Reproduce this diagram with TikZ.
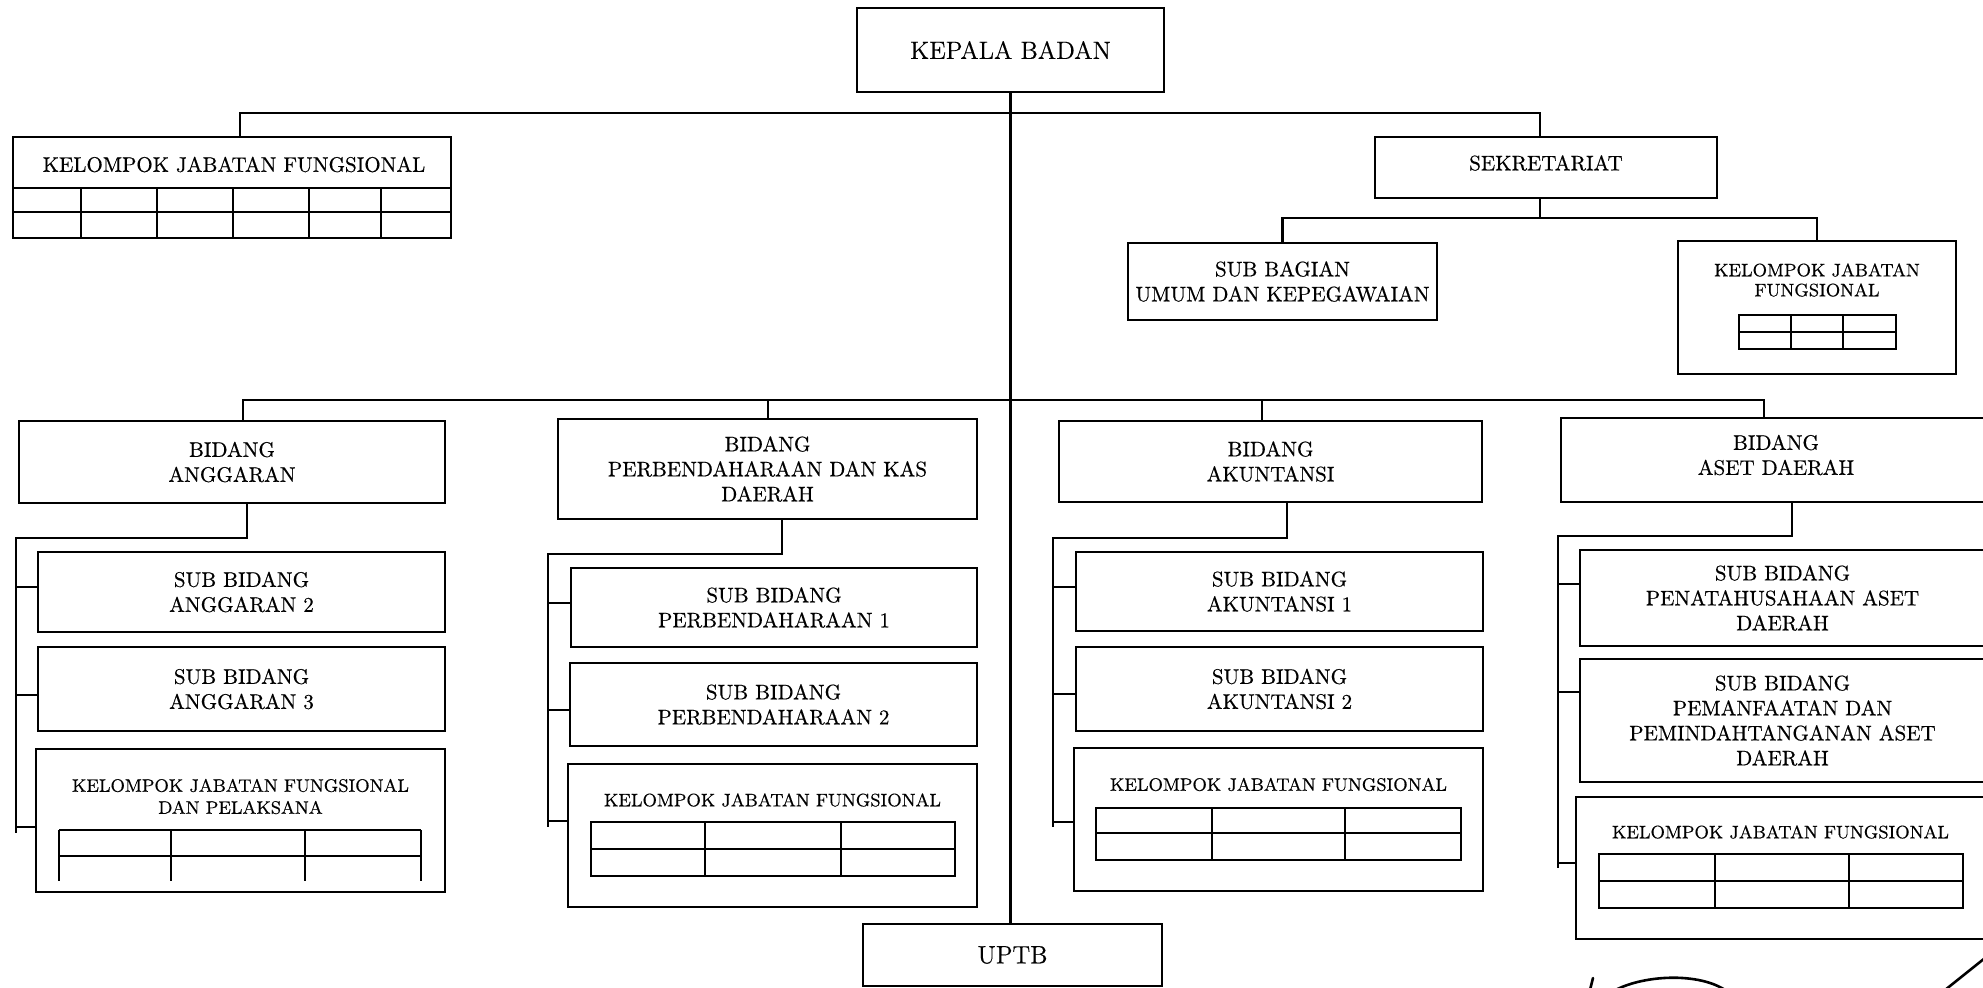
\documentclass[tikz,border=0pt]{standalone}
\usepackage{fontspec}
\setmainfont{Latin Modern Roman}[FakeBold=0.45]
\usetikzlibrary{calc}
\newcommand\mainsize{\fontsize{10.5}{12.5}\selectfont}
\newcommand\kjfsize{\fontsize{9}{11}\selectfont}
\newcommand\headsize{\fontsize{12.5}{15}\selectfont}
\tikzset{
  box/.style={draw, line width=1.15pt, inner sep=0pt, align=center, font=\mainsize},
  sz/.style 2 args={minimum width=#1*0.5pt, minimum height=#2*0.5pt},
  link/.style={line width=1.15pt},
  gridline/.style={line width=0.9pt},
  title/.style={inner sep=0pt, align=center, font=\kjfsize},
  pen/.style={line width=1.3pt, line cap=round},
}
% grid of a functional group: x1 x2 / top mid bottom / two dividers
\newcommand\kjfgrid[7]{%
  \draw[gridline] (#1,#3) rectangle (#2,#5);
  \draw[gridline] (#1,#4) -- (#2,#4);
  \draw[gridline] (#6,#3) -- (#6,#5) (#7,#3) -- (#7,#5);
}
\begin{document}
\begin{tikzpicture}[x=0.5pt,y=-0.5pt]
\useasboundingbox (0,0) rectangle (1983,987);
\clip (0,0) rectangle (1983,987);

% head and bottom unit
\node[box, sz={307}{84}, font=\headsize] (kepala) at (1010.5,50) {KEPALA BADAN};
\node[box, sz={299}{62}, font=\headsize] (uptb) at (1012.5,955) {UPTB};

% top-level functional group (left)
\node[box, sz={438}{101}] (kjfL) at (232,187.5) {};
\node[title, font=\mainsize] (kjfLt) at (234,164.5) {KELOMPOK JABATAN FUNGSIONAL};
\draw[line width=1pt] (13,188) -- (451,188) (13,212) -- (451,212);
\foreach \xx in {81,157,233,309,381} \draw[gridline] (\xx,188) -- (\xx,238);

% secretariat
\node[box, sz={342}{61}] (sek) at (1546,167.5) {};
\node[inner sep=0pt, font=\mainsize] (sekt) at (1546,163) {SEKRETARIAT};
\node[box, sz={309}{77}] (subbag) at (1282.5,281.5) {SUB BAGIAN\\UMUM DAN KEPEGAWAIAN};
\node[box, sz={278}{133}] (kjfS) at (1817,307.5) {};
\node[title, font=\fontsize{9}{10}\selectfont] (kjfSt) at (1817,280) {KELOMPOK JABATAN\\FUNGSIONAL};
\kjfgrid{1739}{1896}{315}{332}{349}{1791}{1843}

% divisions
\node[box, sz={426}{82}] (ag) at (232,462) {BIDANG\\ANGGARAN};
\node[box, sz={419}{100}] (perb) at (767.5,469) {BIDANG\\PERBENDAHARAAN DAN KAS\\DAERAH};
\node[box, sz={423}{81}] (ak) at (1270.5,461.5) {BIDANG\\AKUNTANSI};
\node[box, sz={429}{84}] (aset) at (1775.5,460) {};
\node[inner sep=0pt, align=center, font=\mainsize] (asett) at (1776,455) {BIDANG\\ASET DAERAH};

% budget division
\node[box, sz={407}{80}] (ag2) at (241.5,592) {SUB BIDANG\\ANGGARAN 2};
\node[box, sz={407}{84}] (ag3) at (241.5,689) {SUB BIDANG\\ANGGARAN 3};
\node[box, sz={409}{143}] (agk) at (240.5,820.5) {};
\node[title] (agkt) at (240.5,796.5) {KELOMPOK JABATAN FUNGSIONAL\\DAN PELAKSANA};
\draw[gridline] (59,830) -- (421,830) (59,856) -- (421,856);
\foreach \xx in {59,171,305,421} \draw[gridline] (\xx,830) -- (\xx,881);

% treasury division
\node[box, sz={406}{79}] (pb1) at (774,607.5) {SUB BIDANG\\PERBENDAHARAAN 1};
\node[box, sz={407}{83}] (pb2) at (773.5,704.5) {SUB BIDANG\\PERBENDAHARAAN 2};
\node[box, sz={409}{143}] (pbk) at (772.5,835.5) {};
\node[title] (pbkt) at (772.5,800) {KELOMPOK JABATAN FUNGSIONAL};
\kjfgrid{591}{955}{822}{849}{876}{705}{841}

% accounting division
\node[box, sz={407}{79}] (ak1) at (1279.5,591.5) {SUB BIDANG\\AKUNTANSI 1};
\node[box, sz={407}{84}] (ak2) at (1279.5,689) {SUB BIDANG\\AKUNTANSI 2};
\node[box, sz={409}{143}] (akk) at (1278.5,819.5) {};
\node[title] (akkt) at (1278.5,784.5) {KELOMPOK JABATAN FUNGSIONAL};
\kjfgrid{1096}{1461}{808}{833}{860}{1212}{1345}

% asset division
\node[box, sz={405}{96}] (as1) at (1782.5,598) {SUB BIDANG\\PENATAHUSAHAAN ASET\\DAERAH};
\node[box, sz={405}{123}] (as2) at (1782.5,720.5) {SUB BIDANG\\PEMANFAATAN DAN\\PEMINDAHTANGANAN ASET\\DAERAH};
\node[box, sz={409}{142}] (ask) at (1780.5,868) {};
\node[title] (askt) at (1780.5,832) {KELOMPOK JABATAN FUNGSIONAL};
\kjfgrid{1599}{1963}{854}{881}{908}{1715}{1849}

% main trunk
\draw[link] (kepala.south) -- (kepala.south |- uptb.north);

% first bus: functional group and secretariat
\coordinate (topL) at (240,113);
\coordinate (topR) at (1540,113);
\draw[link] (kjfL.north -| topL) -- (topL) -- (topR) -- (sek.north -| topR);

% secretariat children
\coordinate (sekJ) at (1540,218);
\draw[link] (sek.south -| sekJ) -- (sekJ);
\draw[link] (subbag.north) |- (sekJ) -| (kjfS.north);

% second bus: divisions
\coordinate (midL) at (243,400);
\coordinate (midR) at (1764,400);
\coordinate (perbD) at (768,400);
\coordinate (akD) at (1262,400);
\draw[link] (ag.north -| midL) -- (midL) -- (midR) -- (aset.north -| midR);
\draw[link] (perbD) -- (perb.north -| perbD);
\draw[link] (akD) -- (ak.north -| akD);

% sub-division buses
\coordinate (agD) at (247,538);  \coordinate (agJ) at (16,538);  \coordinate (agE) at (16,833);
\draw[link] (ag.south -| agD) -- (agD) -- (agJ) -- (agE);
\draw[link] (agJ |- 0,587) -- (ag2.west |- 0,587);
\draw[link] (agJ |- 0,695) -- (ag3.west |- 0,695);
\draw[link] (agJ |- 0,827) -- (agk.west |- 0,827);

\coordinate (pbD) at (782,554);  \coordinate (pbJ) at (548,554);  \coordinate (pbE) at (548,827);
\draw[link] (perb.south -| pbD) -- (pbD) -- (pbJ) -- (pbE);
\draw[link] (pbJ |- 0,603) -- (pb1.west |- 0,603);
\draw[link] (pbJ |- 0,710) -- (pb2.west |- 0,710);
\draw[link] (pbJ |- 0,821) -- (pbk.west |- 0,821);

\coordinate (akDD) at (1287,538); \coordinate (akJ) at (1053,538); \coordinate (akE) at (1053,827);
\draw[link] (ak.south -| akDD) -- (akDD) -- (akJ) -- (akE);
\draw[link] (akJ |- 0,587) -- (ak1.west |- 0,587);
\draw[link] (akJ |- 0,694) -- (ak2.west |- 0,694);
\draw[link] (akJ |- 0,822) -- (akk.west |- 0,822);

\coordinate (asD) at (1792,536); \coordinate (asJ) at (1558,536); \coordinate (asE) at (1558,868);
\draw[link] (aset.south -| asD) -- (asD) -- (asJ) -- (asE);
\draw[link] (asJ |- 0,584) -- (as1.west |- 0,584);
\draw[link] (asJ |- 0,692) -- (as2.west |- 0,692);
\draw[link] (asJ |- 0,863) -- (ask.west |- 0,863);

% pen strokes of the initials at the lower right
\draw[pen] (1593,978) -- (1590,990);
\draw[pen] (1612,992) .. controls (1640,975) and (1700,971) .. (1728,992);
\draw[pen] (1985,958) -- (1945,990);
\end{tikzpicture}
\end{document}
